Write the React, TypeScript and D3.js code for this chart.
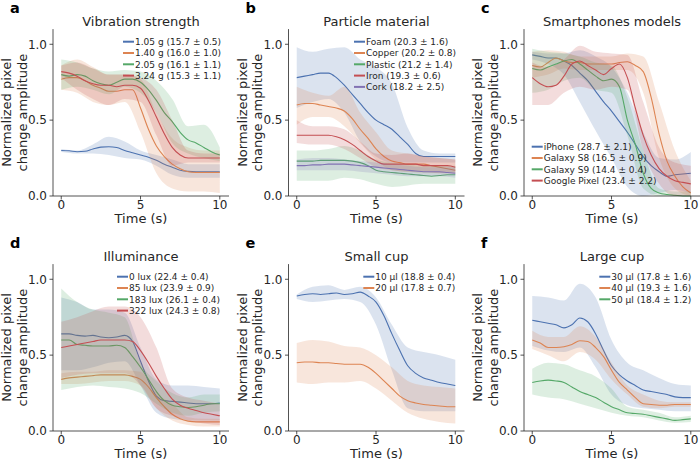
import React from 'react';
import * as d3 from 'd3';

// time grid of the mean curves and of the confidence bands
const TIME = [0, 0.5, 1, 1.5, 2, 2.5, 3, 3.5, 4, 4.5, 5, 5.5, 6, 6.5, 7, 7.5, 8, 8.5, 9, 9.5, 10];
const BAND_TIME = [0, 1, 2, 3, 4, 5, 6, 7, 8, 9, 10];
const X_TICKS = [0, 5, 10];
const Y_TICKS = [0, 0.5, 1.0];
const COLORS = ['#4c72b0', '#dd8452', '#55a868', '#c44e52', '#8172b3'];

// a - vibration strength
const vibrationLabels = ['1.05 g (15.7 ± 0.5)', '1.40 g (16.0 ± 1.0)', '2.05 g (16.1 ± 1.1)', '3.24 g (15.3 ± 1.1)'];
const vibrationMean = [
  [0.30, 0.298, 0.292, 0.295, 0.31, 0.322, 0.325, 0.32, 0.30, 0.285, 0.27, 0.255, 0.235, 0.21, 0.19, 0.17, 0.162, 0.16, 0.16, 0.16, 0.16],
  [0.77, 0.78, 0.78, 0.76, 0.73, 0.71, 0.69, 0.69, 0.70, 0.70, 0.58, 0.44, 0.33, 0.26, 0.21, 0.18, 0.16, 0.155, 0.155, 0.155, 0.155],
  [0.80, 0.79, 0.80, 0.79, 0.76, 0.74, 0.73, 0.75, 0.77, 0.77, 0.75, 0.70, 0.63, 0.55, 0.49, 0.42, 0.37, 0.35, 0.32, 0.29, 0.27],
  [0.82, 0.81, 0.79, 0.76, 0.74, 0.73, 0.73, 0.72, 0.73, 0.73, 0.71, 0.63, 0.52, 0.41, 0.32, 0.27, 0.25, 0.25, 0.25, 0.25, 0.25],
];
const vibrationUpper = [
  [0.31, 0.30, 0.34, 0.39, 0.36, 0.30, 0.27, 0.24, 0.21, 0.21, 0.21],
  [0.86, 0.90, 0.85, 0.80, 0.80, 0.77, 0.55, 0.38, 0.32, 0.30, 0.30],
  [0.90, 0.88, 0.84, 0.82, 0.83, 0.82, 0.76, 0.64, 0.46, 0.47, 0.32],
  [0.86, 0.88, 0.84, 0.80, 0.80, 0.78, 0.70, 0.50, 0.30, 0.28, 0.28],
];
const vibrationLower = [
  [0.29, 0.28, 0.28, 0.27, 0.25, 0.24, 0.20, 0.14, 0.12, 0.12, 0.12],
  [0.70, 0.68, 0.62, 0.60, 0.62, 0.42, 0.15, 0.05, 0.03, 0.03, 0.02],
  [0.70, 0.72, 0.70, 0.67, 0.72, 0.68, 0.55, 0.35, 0.28, 0.25, 0.23],
  [0.78, 0.70, 0.64, 0.60, 0.64, 0.62, 0.40, 0.20, 0.22, 0.22, 0.22],
];

// b - particle material
const materialLabels = ['Foam (20.3 ± 1.6)', 'Copper (20.2 ± 0.8)', 'Plastic (21.2 ± 1.4)', 'Iron (19.3 ± 0.6)', 'Cork (18.2 ± 2.5)'];
const materialMean = [
  [0.78, 0.79, 0.80, 0.81, 0.81, 0.78, 0.73, 0.67, 0.61, 0.55, 0.50, 0.47, 0.44, 0.39, 0.34, 0.28, 0.26, 0.26, 0.26, 0.26, 0.26],
  [0.60, 0.61, 0.61, 0.60, 0.59, 0.58, 0.56, 0.51, 0.44, 0.38, 0.31, 0.26, 0.23, 0.22, 0.21, 0.21, 0.21, 0.20, 0.19, 0.18, 0.17],
  [0.23, 0.23, 0.23, 0.235, 0.235, 0.235, 0.235, 0.23, 0.22, 0.20, 0.17, 0.16, 0.155, 0.15, 0.145, 0.14, 0.135, 0.13, 0.135, 0.14, 0.14],
  [0.40, 0.40, 0.40, 0.40, 0.40, 0.39, 0.37, 0.34, 0.30, 0.26, 0.23, 0.21, 0.21, 0.21, 0.21, 0.21, 0.20, 0.20, 0.20, 0.20, 0.19],
  [0.20, 0.20, 0.205, 0.205, 0.21, 0.21, 0.21, 0.205, 0.20, 0.195, 0.19, 0.185, 0.18, 0.175, 0.17, 0.165, 0.16, 0.16, 0.16, 0.155, 0.15],
];
const materialUpper = [
  [0.98, 0.95, 0.97, 0.98, 0.90, 0.85, 0.74, 0.45, 0.30, 0.28, 0.28],
  [0.72, 0.68, 0.66, 0.72, 0.55, 0.42, 0.30, 0.28, 0.26, 0.25, 0.24],
  [0.30, 0.30, 0.31, 0.33, 0.30, 0.24, 0.22, 0.21, 0.20, 0.20, 0.20],
  [0.50, 0.46, 0.46, 0.44, 0.36, 0.28, 0.27, 0.28, 0.26, 0.25, 0.24],
  [0.24, 0.25, 0.25, 0.24, 0.23, 0.22, 0.21, 0.20, 0.19, 0.19, 0.19],
];
const materialLower = [
  [0.58, 0.62, 0.64, 0.55, 0.36, 0.26, 0.22, 0.22, 0.22, 0.22, 0.22],
  [0.47, 0.52, 0.52, 0.46, 0.35, 0.24, 0.17, 0.16, 0.15, 0.15, 0.15],
  [0.10, 0.10, 0.10, 0.12, 0.11, 0.08, 0.06, 0.07, 0.08, 0.08, 0.08],
  [0.35, 0.34, 0.34, 0.31, 0.25, 0.19, 0.17, 0.16, 0.16, 0.15, 0.15],
  [0.17, 0.17, 0.17, 0.17, 0.16, 0.15, 0.14, 0.13, 0.13, 0.13, 0.12],
];

// c - smartphone models
const phoneLabels = ['iPhone (28.7 ± 2.1)', 'Galaxy S8 (16.5 ± 0.9)', 'Galaxy S9 (14.4 ± 0.4)', 'Google Pixel (23.4 ± 2.2)'];
const phoneMean = [
  [0.93, 0.92, 0.91, 0.91, 0.89, 0.86, 0.81, 0.76, 0.69, 0.62, 0.56, 0.49, 0.42, 0.34, 0.26, 0.20, 0.16, 0.13, 0.14, 0.145, 0.15],
  [0.86, 0.85, 0.88, 0.91, 0.89, 0.88, 0.88, 0.87, 0.87, 0.87, 0.87, 0.88, 0.885, 0.86, 0.82, 0.65, 0.41, 0.23, 0.13, 0.06, 0.02],
  [0.84, 0.83, 0.85, 0.87, 0.89, 0.90, 0.87, 0.83, 0.79, 0.76, 0.77, 0.72, 0.50, 0.34, 0.15, 0.05, 0.02, 0.01, 0.005, 0, 0],
  [0.78, 0.74, 0.72, 0.73, 0.79, 0.87, 0.89, 0.86, 0.83, 0.80, 0.84, 0.87, 0.78, 0.58, 0.40, 0.27, 0.18, 0.13, 0.10, 0.09, 0.08],
];
const phoneUpper = [
  [0.95, 0.94, 0.94, 0.96, 0.92, 0.85, 0.68, 0.42, 0.25, 0.24, 0.29],
  [0.95, 0.96, 0.95, 0.92, 0.92, 0.92, 0.94, 0.92, 0.62, 0.30, 0.10],
  [0.97, 0.95, 0.94, 0.92, 0.88, 0.86, 0.65, 0.30, 0.05, 0.03, 0.03],
  [0.88, 0.85, 0.90, 0.99, 0.95, 0.94, 0.93, 0.62, 0.32, 0.22, 0.20],
];
const phoneLower = [
  [0.90, 0.87, 0.80, 0.62, 0.43, 0.25, 0.06, 0, 0.02, 0.04, 0.02],
  [0.78, 0.80, 0.84, 0.83, 0.83, 0.83, 0.83, 0.68, 0.25, 0.05, 0],
  [0.68, 0.70, 0.76, 0.78, 0.70, 0.68, 0.40, 0.05, 0, 0, 0],
  [0.60, 0.60, 0.68, 0.72, 0.70, 0.72, 0.70, 0.30, 0.08, 0, 0],
];

// d - illuminance
const luxLabels = ['0 lux (22.4 ± 0.4)', '85 lux (23.9 ± 0.9)', '183 lux (26.1 ± 0.4)', '322 lux (24.3 ± 0.8)'];
const luxMean = [
  [0.64, 0.64, 0.63, 0.625, 0.63, 0.62, 0.615, 0.62, 0.63, 0.59, 0.46, 0.33, 0.23, 0.20, 0.195, 0.19, 0.185, 0.18, 0.18, 0.18, 0.185],
  [0.34, 0.35, 0.355, 0.36, 0.365, 0.37, 0.37, 0.37, 0.37, 0.36, 0.34, 0.29, 0.22, 0.16, 0.11, 0.08, 0.065, 0.06, 0.06, 0.06, 0.06],
  [0.60, 0.60, 0.57, 0.565, 0.56, 0.56, 0.56, 0.565, 0.55, 0.49, 0.42, 0.34, 0.26, 0.20, 0.17, 0.16, 0.155, 0.16, 0.17, 0.18, 0.18],
  [0.55, 0.56, 0.57, 0.58, 0.59, 0.60, 0.60, 0.60, 0.60, 0.59, 0.53, 0.45, 0.36, 0.28, 0.21, 0.17, 0.15, 0.135, 0.12, 0.11, 0.10],
];
const luxUpper = [
  [0.88, 0.85, 0.80, 0.80, 0.78, 0.55, 0.34, 0.30, 0.30, 0.29, 0.28],
  [0.38, 0.39, 0.39, 0.40, 0.40, 0.39, 0.25, 0.18, 0.09, 0.08, 0.08],
  [0.94, 0.85, 0.80, 0.78, 0.75, 0.45, 0.33, 0.25, 0.22, 0.24, 0.24],
  [0.72, 0.75, 0.79, 0.82, 0.82, 0.75, 0.55, 0.28, 0.22, 0.20, 0.18],
];
const luxLower = [
  [0.40, 0.40, 0.42, 0.45, 0.46, 0.30, 0.12, 0.08, 0.07, 0.07, 0.07],
  [0.31, 0.31, 0.32, 0.33, 0.33, 0.30, 0.15, 0.07, 0.04, 0.03, 0.03],
  [0.27, 0.29, 0.30, 0.29, 0.28, 0.25, 0.18, 0.12, 0.10, 0.12, 0.13],
  [0.35, 0.37, 0.38, 0.38, 0.38, 0.30, 0.15, 0.10, 0.07, 0.05, 0.04],
];

// e - small cup
const smallCupLabels = ['10 µl (18.8 ± 0.4)', '20 µl (17.8 ± 0.7)'];
const smallCupMean = [
  [0.89, 0.90, 0.905, 0.90, 0.905, 0.91, 0.90, 0.905, 0.915, 0.89, 0.85, 0.76, 0.64, 0.53, 0.43, 0.38, 0.35, 0.335, 0.32, 0.31, 0.30],
  [0.45, 0.455, 0.455, 0.45, 0.45, 0.445, 0.44, 0.44, 0.44, 0.42, 0.38, 0.33, 0.28, 0.23, 0.20, 0.185, 0.175, 0.17, 0.165, 0.16, 0.16],
];
const smallCupUpper = [
  [0.90, 0.95, 0.96, 0.93, 0.95, 0.88, 0.70, 0.55, 0.52, 0.50, 0.47],
  [0.58, 0.60, 0.59, 0.56, 0.55, 0.50, 0.42, 0.33, 0.30, 0.29, 0.28],
];
const smallCupLower = [
  [0.87, 0.85, 0.86, 0.87, 0.85, 0.70, 0.40, 0.15, 0.13, 0.13, 0.13],
  [0.32, 0.31, 0.32, 0.32, 0.33, 0.28, 0.20, 0.12, 0.08, 0.06, 0.05],
];

// f - large cup
const largeCupLabels = ['30 µl (17.8 ± 1.6)', '40 µl (19.3 ± 1.6)', '50 µl (18.4 ± 1.2)'];
const largeCupMean = [
  [0.73, 0.72, 0.71, 0.70, 0.68, 0.70, 0.745, 0.72, 0.64, 0.53, 0.43, 0.37, 0.33, 0.30, 0.27, 0.26, 0.25, 0.24, 0.225, 0.22, 0.22],
  [0.60, 0.58, 0.55, 0.55, 0.555, 0.57, 0.595, 0.59, 0.55, 0.49, 0.40, 0.32, 0.27, 0.22, 0.18, 0.175, 0.17, 0.17, 0.175, 0.175, 0.175],
  [0.32, 0.33, 0.335, 0.33, 0.32, 0.29, 0.26, 0.24, 0.22, 0.19, 0.16, 0.14, 0.12, 0.115, 0.11, 0.10, 0.09, 0.08, 0.07, 0.075, 0.08],
];
const largeCupUpper = [
  [0.89, 0.88, 0.86, 0.97, 0.88, 0.60, 0.45, 0.40, 0.35, 0.31, 0.30],
  [0.66, 0.62, 0.62, 0.69, 0.62, 0.45, 0.30, 0.24, 0.20, 0.19, 0.19],
  [0.41, 0.45, 0.44, 0.40, 0.36, 0.28, 0.16, 0.14, 0.12, 0.09, 0.10],
];
const largeCupLower = [
  [0.56, 0.53, 0.52, 0.55, 0.42, 0.24, 0.17, 0.15, 0.14, 0.13, 0.13],
  [0.54, 0.50, 0.46, 0.52, 0.47, 0.34, 0.24, 0.16, 0.15, 0.16, 0.16],
  [0.24, 0.22, 0.21, 0.18, 0.15, 0.12, 0.10, 0.09, 0.07, 0.055, 0.06],
];

const panels = [
  { letter: 'a', title: 'Vibration strength', labels: vibrationLabels, mean: vibrationMean, upper: vibrationUpper, lower: vibrationLower, col: 0, row: 0, legend: [70, 12.6] },
  { letter: 'b', title: 'Particle material', labels: materialLabels, mean: materialMean, upper: materialUpper, lower: materialLower, col: 1, row: 0, legend: [65.5, 12.6] },
  { letter: 'c', title: 'Smartphones models', labels: phoneLabels, mean: phoneMean, upper: phoneUpper, lower: phoneLower, col: 2, row: 0, legend: [7.7, 117.6] },
  { letter: 'd', title: 'Illuminance', labels: luxLabels, mean: luxMean, upper: luxUpper, lower: luxLower, col: 0, row: 1, legend: [64, 12.6] },
  { letter: 'e', title: 'Small cup', labels: smallCupLabels, mean: smallCupMean, upper: smallCupUpper, lower: smallCupLower, col: 1, row: 1, legend: [74.8, 12.6] },
  { letter: 'f', title: 'Large cup', labels: largeCupLabels, mean: largeCupMean, upper: largeCupUpper, lower: largeCupLower, col: 2, row: 1, legend: [75.3, 12.6] },
];

const COL_LEFT = [53, 288.5, 524];
const ROW_BOTTOM = [196, 431];
const PLOT_W = 176;
const PLOT_H = 166.9;
const INK = '#262626';
const FONT = 'DejaVu Sans';

function Panel({ p }) {
  const left = COL_LEFT[p.col];
  const bottom = ROW_BOTTOM[p.row];
  const top = bottom - PLOT_H;
  const x = d3.scaleLinear().domain([-0.52, 10.58]).range([left, left + PLOT_W]);
  const y = d3.scaleLinear().domain([0, 1.1]).range([bottom, top]);
  const line = d3.line<number>().x((d, i) => x(TIME[i])).y((d) => y(d)).curve(d3.curveMonotoneX);
  const band = (i: number) =>
    d3.area<number>()
      .x((d, j) => x(BAND_TIME[j]))
      .y0((d, j) => y(p.lower[i][j]))
      .y1((d) => y(d))
      .curve(d3.curveMonotoneX)(p.upper[i]);
  const fmt = d3.format('.1f');
  const cx = left + PLOT_W / 2;
  const cy = (top + bottom) / 2;
  const [lx, ly] = p.legend;

  return (
    <g>
      <text x={left - 43} y={top - 16.6} fontSize={14.5} fontWeight="bold" fill="#000">{p.letter}</text>
      <text x={cx} y={top - 3} fontSize={13} textAnchor="middle" fill={INK}>{p.title}</text>

      {p.mean.map((m, i) => (
        <g key={i}>
          <path d={band(i)} fill={COLORS[i]} fillOpacity={0.2} stroke="none" />
          <path d={line(m)} fill="none" stroke={COLORS[i]} strokeWidth={1.1} />
        </g>
      ))}

      <line x1={left} x2={left} y1={top} y2={bottom} stroke={INK} strokeWidth={0.8} />
      <line x1={left} x2={left + PLOT_W} y1={bottom} y2={bottom} stroke={INK} strokeWidth={0.8} />
      {Y_TICKS.map((t) => (
        <g key={t}>
          <line x1={left - 3.5} x2={left} y1={y(t)} y2={y(t)} stroke={INK} strokeWidth={0.8} />
          <text x={left - 6} y={y(t) + 4.3} fontSize={12} textAnchor="end" fill={INK}>{fmt(t)}</text>
        </g>
      ))}
      {X_TICKS.map((t) => (
        <g key={t}>
          <line x1={x(t)} x2={x(t)} y1={bottom} y2={bottom + 3.5} stroke={INK} strokeWidth={0.8} />
          <text x={x(t)} y={bottom + 12.6} fontSize={12} textAnchor="middle" fill={INK}>{t}</text>
        </g>
      ))}
      <text x={cx} y={bottom + 26.5} fontSize={13} textAnchor="middle" fill={INK}>Time (s)</text>
      <text transform={`translate(${left - 41.8},${cy}) rotate(-90)`} fontSize={13} textAnchor="middle" fill={INK}>Normalized pixel</text>
      <text transform={`translate(${left - 26.2},${cy}) rotate(-90)`} fontSize={13} textAnchor="middle" fill={INK}>change amplitude</text>

      {p.labels.map((lab, i) => {
        const yy = top + ly + i * 11.3;
        return (
          <g key={lab}>
            <line x1={left + lx} x2={left + lx + 11} y1={yy} y2={yy} stroke={COLORS[i]} strokeWidth={2} />
            <text x={left + lx + 12} y={yy + 3.2} fontSize={9} fill={INK}>{lab}</text>
          </g>
        );
      })}
    </g>
  );
}

export default function App() {
  return (
    <svg width={700} height={462} style={{ position: 'absolute', left: 0, top: 0, background: '#fff' }} fontFamily={FONT}>
      <rect width={700} height={462} fill="#fff" />
      {panels.map((p) => (
        <Panel key={p.letter} p={p} />
      ))}
    </svg>
  );
}
